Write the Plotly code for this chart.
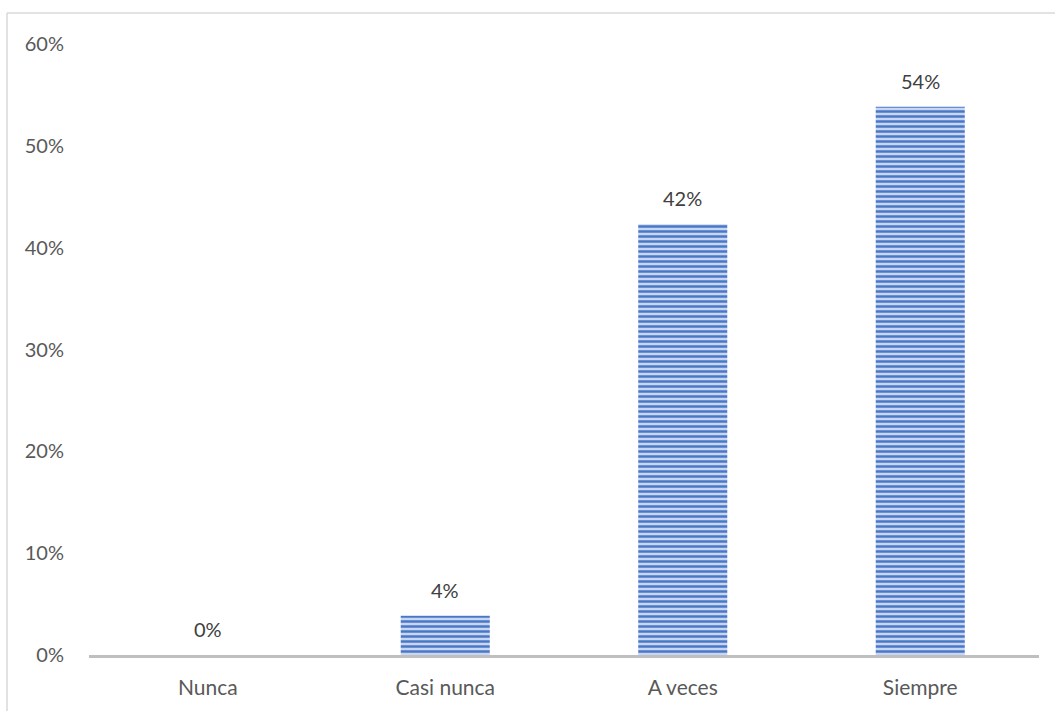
import plotly.graph_objects as go

categories = ["Nunca", "Casi nunca", "A veces", "Siempre"]
values = [0.0, 1 / 26, 11 / 26, 14 / 26]
labels = ["0%", "4%", "42%", "54%"]

FONT = "Lato, Open Sans, sans-serif"
fig = go.Figure()
fig.add_trace(go.Bar(
    x=categories, y=values,
    marker=dict(color="#4472c4", line=dict(width=0),
                pattern=dict(shape="-", fgcolor="#4a78c8", bgcolor="#c8d6f0",
                             size=5, solidity=0.5, fgopacity=1, fillmode="replace")),
    width=0.375, hoverinfo="x+y",
))

for c, v, t in zip(categories, values, labels):
    fig.add_annotation(x=c, y=v, text=t, showarrow=False, yanchor="bottom",
                       yshift=12, font=dict(family=FONT, size=20, color="#404040"))

H0, H1 = 655, 44
fig.update_layout(
    width=1055, height=711,
    margin=dict(l=89, r=16, t=44, b=56),
    paper_bgcolor="white", plot_bgcolor="white",
    showlegend=False,
    font=dict(family=FONT, size=20, color="#595959"),
    xaxis=dict(showgrid=False, showline=True, linecolor="#bfbfbf", linewidth=3,
               ticks="", tickfont=dict(family=FONT, size=21, color="#595959"), ticklabelstandoff=12),
    yaxis=dict(range=[0, 0.6], tickvals=[0, 0.1, 0.2, 0.3, 0.4, 0.5, 0.6],
               tickformat=".0%", showgrid=False, zeroline=False, showline=False,
               ticks="", ticklabelstandoff=24, tickfont=dict(family=FONT, size=20, color="#595959")),
    bargap=0.625,
)

plot_w = 1055 - 89 - 16
plot_h = H0 - H1
x_left = (7 - 89) / plot_w
y_top = (H0 - 13) / plot_h
fig.add_shape(type="line", xref="paper", yref="paper", x0=x_left, x1=1.05, y0=y_top, y1=y_top,
              line=dict(color="#d9d9d9", width=1.5))
fig.add_shape(type="line", xref="paper", yref="paper", x0=x_left, x1=x_left, y0=y_top, y1=-0.2,
              line=dict(color="#d9d9d9", width=1.5))

fig.write_html("out.html", config={"displayModeBar": False},
               post_script="document.body.style.margin='0px';")
